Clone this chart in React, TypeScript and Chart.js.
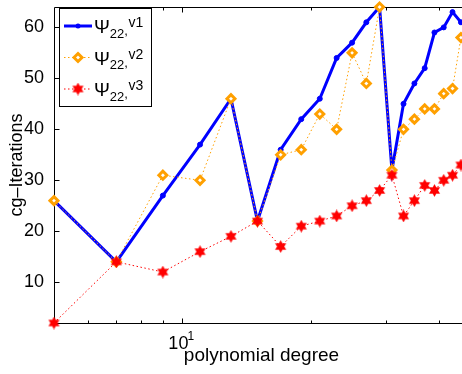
import React, { useEffect, useRef } from 'react';
import { Chart, registerables } from 'chart.js';

Chart.register(...registerables);

// ---- data ----
const degrees = [5, 7, 9, 11, 13, 15, 17, 19, 21, 23, 25, 27, 29, 31, 33, 35, 37, 39, 41, 43, 45];
const itersV1 = [26, 14, 27, 37, 46, 22, 36, 42, 46, 54, 57, 61, 64, 32, 45, 49, 52, 59, 60, 63, 61];
const itersV2 = [26, 14, 31, 30, 46, 22, 35, 36, 43, 40, 55, 49, 64, 32, 40, 42, 44, 44, 47, 48, 58];
const itersV3 = [2, 14, 12, 16, 19, 22, 17, 21, 22, 23, 25, 26, 28, 31, 23, 26, 29, 28, 30, 31, 33];
const seriesNames = ['v1', 'v2', 'v3'];
const yTicks = [10, 20, 30, 40, 50, 60];
const xMajorTicks = [10];
const xMinorTicks = [6, 7, 8, 9, 20, 30, 40];
const X_MIN = 5;
const X_MAX = 47;
const Y_MIN = 2;
const Y_MAX = 64;

const FONT = "'Liberation Sans', Arial, Helvetica, sans-serif";
const BLUE = '#0000ff';
const ORANGE = 'rgb(255,160,0)';
const RED = '#ff0000';

function makeHexagram(color: string, size: number): HTMLCanvasElement {
  const c = document.createElement('canvas');
  c.width = size;
  c.height = size;
  const ctx = c.getContext('2d')!;
  const cx = size / 2;
  const cy = size / 2;
  const R = size / 2 - 0.5;
  const r = R / Math.sqrt(3);
  ctx.beginPath();
  for (let i = 0; i < 12; i++) {
    const a = -Math.PI / 2 + (i * Math.PI) / 6;
    const rad = i % 2 === 0 ? R : r;
    const px = cx + Math.cos(a) * rad;
    const py = cy + Math.sin(a) * rad;
    if (i === 0) ctx.moveTo(px, py);
    else ctx.lineTo(px, py);
  }
  ctx.closePath();
  ctx.fillStyle = color;
  ctx.fill();
  ctx.strokeStyle = 'rgba(255,0,0,0.5)';
  ctx.lineWidth = 0.8;
  ctx.stroke();
  return c;
}

function toPoints(values: number[]) {
  return degrees.map((d, i) => ({ x: d, y: values[i] }));
}

const frameAndLegend = {
  id: 'frameAndLegend',
  beforeDatasetsDraw(chart: any) {
    const ctx = chart.ctx;
    const { left, right, top, bottom } = chart.chartArea;
    const xs = chart.scales.x;
    const ys = chart.scales.y;
    const L = Math.floor(left) + 0.5;
    const R = Math.floor(right) + 0.5;
    const T = Math.floor(top) + 0.5;
    const B = Math.floor(bottom) + 0.5;
    ctx.save();
    ctx.strokeStyle = '#000';
    ctx.lineWidth = 1;
    ctx.beginPath();
    ctx.moveTo(L, T);
    ctx.lineTo(R, T);
    ctx.lineTo(R, B);
    ctx.lineTo(L, B);
    ctx.closePath();
    ctx.stroke();
    // inward ticks
    ctx.beginPath();
    xs.ticks.forEach((t: any) => {
      const px = Math.round(xs.getPixelForValue(t.value)) + 0.5;
      const len = t.major ? 5 : 3;
      ctx.moveTo(px, B);
      ctx.lineTo(px, B - len);
      ctx.moveTo(px, T);
      ctx.lineTo(px, T + len);
    });
    ys.ticks.forEach((t: any) => {
      const py = Math.round(ys.getPixelForValue(t.value)) + 0.5;
      ctx.moveTo(L, py);
      ctx.lineTo(L + 5, py);
      ctx.moveTo(R, py);
      ctx.lineTo(R - 5, py);
    });
    ctx.stroke();
    // superscript of the 10^1 label
    xs.ticks.forEach((t: any) => {
      if (t.major) {
        const px = xs.getPixelForValue(t.value);
        ctx.fillStyle = '#000';
        ctx.font = `12px ${FONT}`;
        ctx.textAlign = 'left';
        ctx.textBaseline = 'alphabetic';
        ctx.fillText(String(Math.round(Math.log10(t.value))), px + 5, xs.top + 17);
      }
    });
    ctx.restore();
  },
  afterDatasetsDraw(chart: any) {
    const ctx = chart.ctx;
    const bx = 59.5;
    const by = 8.5;
    const bw = 92;
    const bh = 98;
    ctx.save();
    ctx.fillStyle = '#fff';
    ctx.fillRect(bx, by, bw, bh);
    ctx.strokeStyle = '#000';
    ctx.lineWidth = 1;
    ctx.strokeRect(bx, by, bw, bh);
    chart.data.datasets.forEach((ds: any, i: number) => {
      const cy = 26 + i * 31.5;
      ctx.save();
      ctx.strokeStyle = ds.borderColor;
      ctx.lineWidth = ds.borderWidth;
      ctx.setLineDash(ds.borderDash || []);
      ctx.beginPath();
      ctx.moveTo(64, cy);
      ctx.lineTo(92, cy);
      ctx.stroke();
      ctx.restore();
      const mx = 78;
      if (ds.pointStyle instanceof HTMLCanvasElement) {
        const img = ds.pointStyle as HTMLCanvasElement;
        ctx.drawImage(img, mx - img.width / 2, cy - img.height / 2);
      } else if (ds.pointStyle === 'rectRot') {
        const r = ds.pointRadius;
        ctx.beginPath();
        ctx.moveTo(mx, cy - r);
        ctx.lineTo(mx + r, cy);
        ctx.lineTo(mx, cy + r);
        ctx.lineTo(mx - r, cy);
        ctx.closePath();
        ctx.fillStyle = ds.pointBackgroundColor;
        ctx.fill();
        ctx.lineWidth = ds.pointBorderWidth;
        ctx.strokeStyle = ds.pointBorderColor;
        ctx.stroke();
      } else {
        ctx.beginPath();
        ctx.arc(mx, cy, ds.pointRadius, 0, Math.PI * 2);
        ctx.fillStyle = ds.pointBackgroundColor;
        ctx.fill();
      }
      // text: Psi_22 ,v#
      ctx.fillStyle = '#000';
      ctx.textAlign = 'left';
      ctx.textBaseline = 'alphabetic';
      let x = 94;
      ctx.font = `19px ${FONT}`;
      ctx.fillText('\u03A8', x, cy + 7);
      x += ctx.measureText('\u03A8').width;
      ctx.font = `13px ${FONT}`;
      ctx.fillText('22', x, cy + 11.5);
      x += ctx.measureText('22').width;
      ctx.fillText(',', x, cy + 9);
      x += ctx.measureText(',').width + 0.5;
      ctx.font = `14px ${FONT}`;
      ctx.fillText(ds.label, x, cy + 1);
    });
    ctx.restore();
  },
};

export default function App() {
  const ref = useRef<HTMLCanvasElement | null>(null);
  useEffect(() => {
    if (!ref.current) return;
    const hexagram = makeHexagram(RED, 13);
    const chart = new Chart(ref.current, {
      type: 'line',
      data: {
        datasets: [
          {
            label: seriesNames[0],
            data: toPoints(itersV1),
            borderColor: BLUE,
            borderWidth: 3,
            pointStyle: 'circle',
            pointRadius: 2.5,
            pointBackgroundColor: BLUE,
            pointBorderColor: BLUE,
            pointBorderWidth: 1,
            order: 3,
            clip: false,
          } as any,
          {
            label: seriesNames[1],
            data: toPoints(itersV2),
            borderColor: ORANGE,
            borderWidth: 1,
            borderDash: [1.5, 2.5],
            pointStyle: 'rectRot',
            pointRadius: 4,
            pointBackgroundColor: '#fff',
            pointBorderColor: ORANGE,
            pointBorderWidth: 3,
            order: 2,
            clip: false,
          } as any,
          {
            label: seriesNames[2],
            data: toPoints(itersV3),
            borderColor: RED,
            borderWidth: 1,
            borderDash: [1.5, 2.5],
            pointStyle: hexagram,
            pointRadius: 6,
            pointBackgroundColor: RED,
            pointBorderColor: RED,
            order: 1,
            clip: false,
          } as any,
        ],
      },
      options: {
        animation: false,
        responsive: false,
        devicePixelRatio: 1,
        events: [],
        layout: { padding: { top: 4, right: 2, left: 0, bottom: 0 } },
        plugins: { legend: { display: false }, tooltip: { enabled: false } },
        scales: {
          x: {
            type: 'logarithmic',
            min: X_MIN,
            max: X_MAX,
            grid: { display: false },
            border: { display: false },
            afterBuildTicks: (scale: any) => {
              scale.ticks = [...xMinorTicks, ...xMajorTicks]
                .sort((a, b) => a - b)
                .map((v) => ({ value: v, major: xMajorTicks.includes(v) }));
            },
            afterFit: (scale: any) => {
              scale.height = 51;
              scale.paddingLeft = 0;
              scale.paddingRight = 0;
            },
            ticks: {
              autoSkip: false,
              maxRotation: 0,
              padding: 2,
              labelOffset: -4,
              color: '#000',
              font: { family: FONT, size: 18 },
              callback: (value: any) => (xMajorTicks.includes(Number(value)) ? '10' : ''),
            },
            title: {
              display: true,
              text: 'polynomial degree',
              color: '#000',
              font: { family: FONT, size: 19 },
              padding: { top: 0, bottom: 7 },
            },
          },
          y: {
            type: 'linear',
            min: Y_MIN,
            max: Y_MAX,
            grid: { display: false },
            border: { display: false },
            afterBuildTicks: (scale: any) => {
              scale.ticks = yTicks.map((v) => ({ value: v }));
            },
            afterFit: (scale: any) => {
              scale.width = 54;
              scale.paddingTop = 0;
              scale.paddingBottom = 0;
            },
            ticks: {
              padding: 2,
              color: '#000',
              font: { family: FONT, size: 18 },
            },
            title: {
              display: true,
              text: 'cg\u2013Iterations',
              color: '#000',
              font: { family: FONT, size: 18 },
              padding: { top: 6, bottom: 0 },
            },
          },
        },
      },
      plugins: [frameAndLegend],
    } as any);
    return () => chart.destroy();
  }, []);
  return (
    <div
      style={{
        position: 'absolute',
        left: 0,
        top: 0,
        width: 462,
        height: 374,
        overflow: 'hidden',
        background: '#fff',
      }}
    >
      <canvas ref={ref} width={476} height={374} style={{ display: 'block', width: 476, height: 374 }} />
    </div>
  );
}
